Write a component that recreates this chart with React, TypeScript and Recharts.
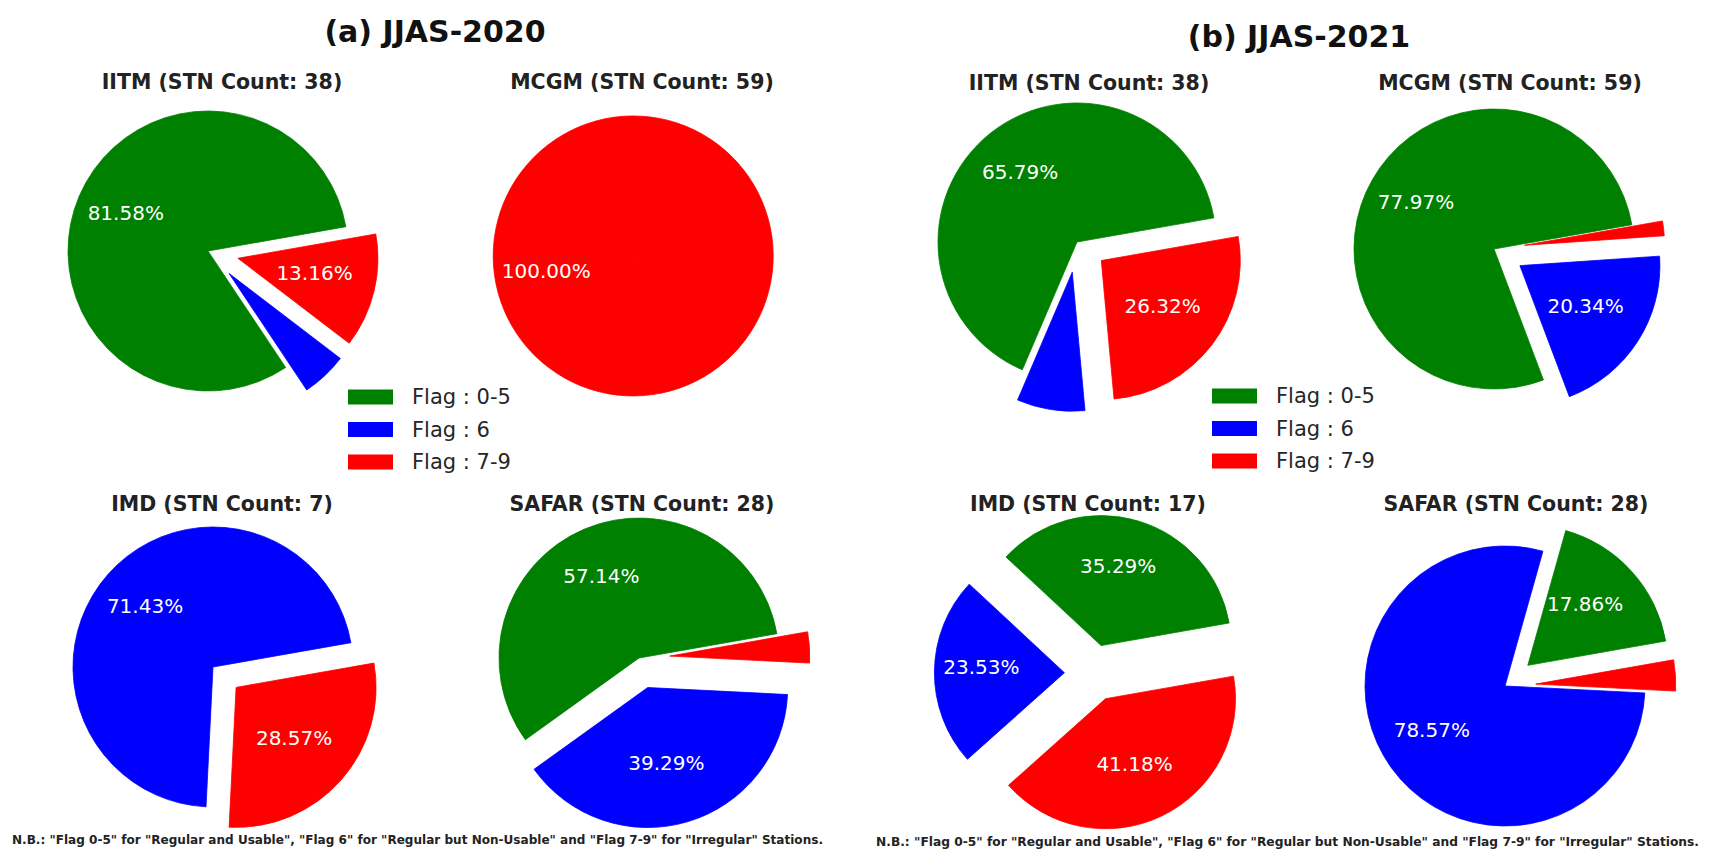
import { PieChart, Pie, Cell } from "recharts";

const FLAGS = ["Flag : 0-5", "Flag : 6", "Flag : 7-9"];
const COLORS = ["#008000", "#0000ff", "#ff0000"];

// station counts per flag group: [0-5, 6, 7-9]
const IITM_2020 = [31, 2, 5];
const MCGM_2020 = [0, 0, 59];
const IMD_2020 = [0, 5, 2];
const SAFAR_2020 = [16, 11, 1];
const IITM_2021 = [25, 3, 10];
const MCGM_2021 = [46, 12, 1];
const IMD_2021 = [6, 4, 7];
const SAFAR_2021 = [5, 22, 1];

const START = 10;
const FONT = "DejaVu Sans";

type Panel = { name: string; values: number[]; cx: number; cy: number; r: number; tx: number; ty: number };

const PANELS: Panel[] = [
  { name: "IITM", values: IITM_2020, cx: 203, cy: 246, r: 140, tx: 222, ty: 89 },
  { name: "MCGM", values: MCGM_2020, cx: 629, cy: 256, r: 140, tx: 642, ty: 89 },
  { name: "IMD", values: IMD_2020, cx: 208, cy: 662, r: 140, tx: 222, ty: 511 },
  { name: "SAFAR", values: SAFAR_2020, cx: 634, cy: 653, r: 140, tx: 642, ty: 511 },
  { name: "IITM", values: IITM_2021, cx: 1072, cy: 237, r: 139, tx: 1089, ty: 90 },
  { name: "MCGM", values: MCGM_2021, cx: 1489, cy: 244, r: 140, tx: 1510, ty: 90 },
  { name: "IMD", values: IMD_2021, cx: 1088, cy: 668, r: 130, tx: 1088, ty: 511 },
  { name: "SAFAR", values: SAFAR_2021, cx: 1500, cy: 681, r: 140, tx: 1516, ty: 511 },
];

const RAD = Math.PI / 180;

function wedges(p: Panel, pi: number) {
  const total = p.values.reduce((a, b) => a + b, 0);
  // zero groups add no angle, so leave them out of the pie data
  const rows = p.values
    .map((v, i) => ({ name: FLAGS[i], value: v, flag: i }))
    .filter((d) => d.value > 0);
  let acc = 0;
  return rows.map((row, i) => {
    const frac = row.value / total;
    const mid = START + 360 * (acc + frac / 2);
    acc += frac;
    const d = frac < 0.5 ? 0.22 * p.r : 0;
    const x = p.cx + d * Math.cos(mid * RAD);
    const y = p.cy - d * Math.sin(mid * RAD);
    const label = (props: any) => {
      if (props.index !== i || props.percent < 0.1) return null;
      const a = props.midAngle * RAD;
      return (
        <text x={x + 0.6 * p.r * Math.cos(a)} y={y - 0.6 * p.r * Math.sin(a)} fill="#fff"
          fontSize={20} fontFamily={FONT} textAnchor="middle" dominantBaseline="central">
          {(props.percent * 100).toFixed(2)}%
        </text>
      );
    };
    return (
      <Pie key={`${pi}-${i}`} data={rows} dataKey="value" cx={x} cy={y} outerRadius={p.r}
        startAngle={START} endAngle={START + 360} stroke="none" label={label} labelLine={false}
        isAnimationActive={false}>
        {rows.map((r, j) =>
          j === i ? (
            <Cell key={j} fill={COLORS[r.flag]} stroke={COLORS[r.flag]} strokeWidth={0.8} />
          ) : (
            <Cell key={j} fill="none" stroke="none" />
          )
        )}
      </Pie>
    );
  });
}

const NOTE =
  'N.B.: "Flag 0-5" for "Regular and Usable", "Flag 6" for "Regular but Non-Usable" and "Flag 7-9" for "Irregular" Stations.';

function Legend({ x, y }: { x: number; y: number }) {
  return (
    <g>
      {FLAGS.map((f, i) => (
        <g key={f}>
          <rect x={x} y={y + i * 32.5 - 7.5} width={45} height={15} fill={COLORS[i]} />
          <text x={x + 64} y={y + i * 32.5} fontSize={21} fontFamily={FONT} fill="#262626"
            dominantBaseline="central">{f}</text>
        </g>
      ))}
    </g>
  );
}

export default function App() {
  return (
    <div style={{ position: "absolute", left: 0, top: 0, width: 1710, height: 852, background: "#fff" }}>
      <PieChart width={1710} height={852}>
        {PANELS.map((p, pi) => wedges(p, pi))}
      </PieChart>
      <svg width={1710} height={852} style={{ position: "absolute", left: 0, top: 0, pointerEvents: "none" }}>
        <text x={435} y={42} fontSize={30} fontWeight="bold" fontFamily={FONT} textAnchor="middle" fill="#111">(a) JJAS-2020</text>
        <text x={1299} y={47} fontSize={30} fontWeight="bold" fontFamily={FONT} textAnchor="middle" fill="#111">(b) JJAS-2021</text>
        {PANELS.map((p, i) => (
          <text key={i} x={p.tx} y={p.ty} fontSize={20.5} fontWeight="bold" fontFamily={FONT}
            textAnchor="middle" fill="#222">
            {`${p.name} (STN Count: ${p.values.reduce((a, b) => a + b, 0)})`}
          </text>
        ))}
        <Legend x={348} y={397} />
        <Legend x={1212} y={396} />
        <text x={12} y={844} fontSize={11.5} fontWeight="bold" fontFamily={FONT} fill="#222"
          textLength={811} lengthAdjust="spacingAndGlyphs">{NOTE}</text>
        <text x={876} y={846} fontSize={11.5} fontWeight="bold" fontFamily={FONT} fill="#222"
          textLength={823} lengthAdjust="spacingAndGlyphs">{NOTE}</text>
      </svg>
    </div>
  );
}
